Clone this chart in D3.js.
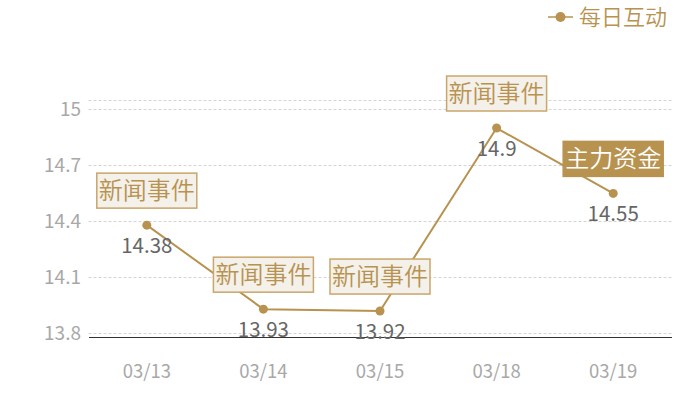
<!DOCTYPE html>
<html><head><meta charset="utf-8">
<script src="https://cdn.jsdelivr.net/npm/d3@7"></script>
<style>body{margin:0;background:#fff}svg{display:block}</style>
</head><body>
<svg id="c" width="700" height="400"></svg>
<script>
const categories = ["03/13","03/14","03/15","03/18","03/19"];
const values = [14.38, 13.93, 13.92, 14.9, 14.55];
const yTicks = [13.8, 14.1, 14.4, 14.7, 15];
const annotations = ["新闻事件","新闻事件","新闻事件","新闻事件","主力资金"];
const annotationKinds = ["news","news","news","news","fund"];
const seriesName = "每日互动";

const FONT = "'Noto Sans CJK SC','Noto Sans',sans-serif";
const gold = "#b8924f";
const svg = d3.select("#c");
const x = d3.scaleBand().domain(categories).range([88.5, 671.5]);
const y = d3.scaleLinear().domain([13.781, 15.05]).range([337, 100]);
const cx = d => x(d) + x.bandwidth()/2;

// grid
const gridVals = yTicks.concat([15.05]);
svg.append("g").selectAll("line").data(gridVals).join("line")
  .attr("x1", 88.5).attr("x2", 671.5)
  .attr("y1", d => Math.round(y(d)) + 0.5).attr("y2", d => Math.round(y(d)) + 0.5)
  .attr("stroke", "#d4d4d4").attr("stroke-dasharray", "3,2").attr("stroke-width", 1);

// y axis labels
const yAxis = d3.axisLeft(y).tickValues(yTicks).tickSize(0).tickPadding(0).tickFormat(d3.format("~g"));
const ya = svg.append("g").attr("transform", "translate(81,0)").call(yAxis);
ya.select(".domain").remove();
ya.selectAll("text").attr("fill", "#a8a8a8").style("font-size", "19px").style("font-family", FONT);

// x axis
const xAxis = d3.axisBottom(x).tickSize(0).tickPadding(0);
const xa = svg.append("g").attr("transform", "translate(0,337)").call(xAxis);
xa.select(".domain").attr("stroke", "#333").attr("stroke-width", 1.2);
xa.selectAll("text").attr("fill", "#a8a8a8").attr("dy", null).attr("y", 41)
  .style("font-size", "18.5px").style("font-family", FONT);

// line
const line = d3.line().x((d, i) => cx(categories[i])).y(d => y(d));
svg.append("path").datum(values).attr("d", line).attr("fill", "none")
  .attr("stroke", gold).attr("stroke-width", 2);
svg.append("g").selectAll("circle").data(values).join("circle")
  .attr("cx", (d, i) => cx(categories[i])).attr("cy", d => y(d)).attr("r", 4.5).attr("fill", gold);

// value labels
svg.append("g").selectAll("text").data(values).join("text")
  .attr("x", (d, i) => cx(categories[i])).attr("y", d => y(d) + 28)
  .attr("text-anchor", "middle").attr("fill", "#666")
  .style("font-size", "20.5px").style("font-family", FONT).text(d => d);

// annotation boxes
const ag = svg.append("g").selectAll("g").data(values).join("g")
  .attr("transform", (d, i) => `translate(${cx(categories[i])},${y(d) - 17})`);
ag.append("rect")
  .attr("x", -50).attr("y", -35).attr("width", 100).attr("height", 35)
  .attr("fill", (d, i) => annotationKinds[i] === "fund" ? "#b8924f" : "#f4f0ea")
  .attr("stroke", (d, i) => annotationKinds[i] === "fund" ? "#b8924f" : "#c9a66b")
  .attr("stroke-width", 1.5);
ag.append("text").attr("x", 0).attr("y", -9).attr("text-anchor", "middle")
  .attr("fill", (d, i) => annotationKinds[i] === "fund" ? "#fff" : "#b8924f")
  .style("font-size", "24px").style("font-weight", 350).style("font-family", FONT)
  .text((d, i) => annotations[i]);

// legend
const lg = svg.append("g").attr("transform", "translate(548,17)");
lg.append("line").attr("x1", 0).attr("x2", 25).attr("y1", 0).attr("y2", 0).attr("stroke", gold).attr("stroke-width", 1.5);
lg.append("circle").attr("cx", 12.5).attr("cy", 0).attr("r", 5).attr("fill", gold);
lg.append("text").attr("x", 31).attr("y", 8).attr("fill", gold)
  .style("font-size", "22px").style("font-weight", 350).style("font-family", FONT).text(seriesName);
</script>
</body></html>
